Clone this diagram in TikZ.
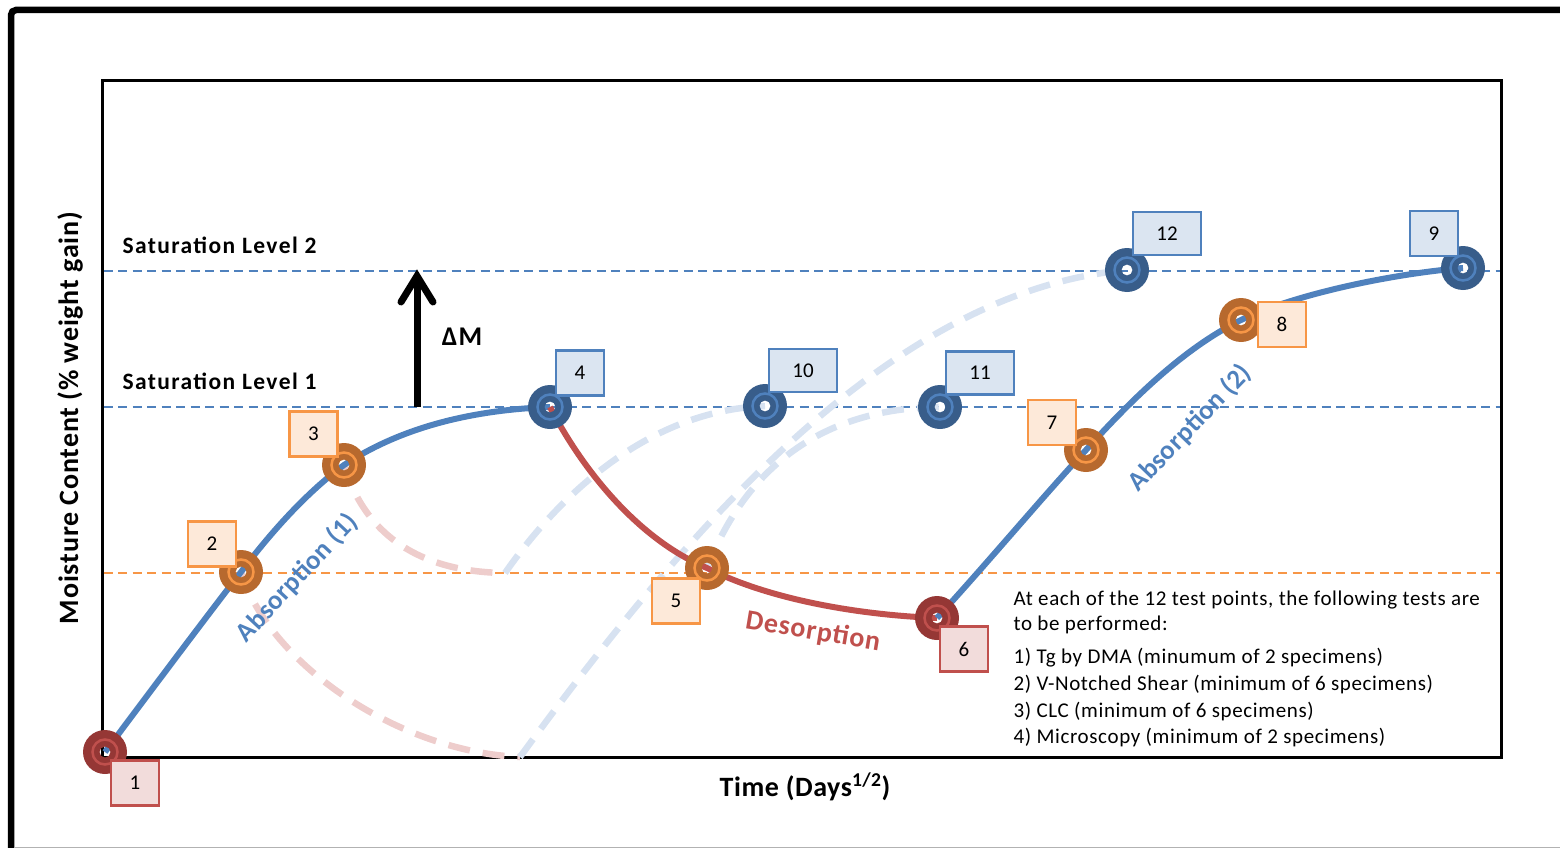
\documentclass[tikz,border=0pt]{standalone}
\usepackage{fontspec}
\setmainfont{Carlito}
\usetikzlibrary{arrows.meta}
\definecolor{cBlue}{HTML}{4F81BD}
\definecolor{cRed}{HTML}{C0504D}
\definecolor{cOrange}{HTML}{F79646}
\definecolor{mBlue}{HTML}{385D8A}
\definecolor{mOrange}{HTML}{B7692E}
\definecolor{mRed}{HTML}{953735}
\definecolor{fBlue}{HTML}{DBE5F1}
\definecolor{fOrange}{HTML}{FDE9D9}
\definecolor{fRed}{HTML}{F2DCDB}
\definecolor{dPink}{HTML}{EECDCC}
\definecolor{dLBlue}{HTML}{D7E2F1}
\newcommand\ringmark[3]{%
  \fill[#2, even odd rule] (#1) circle (22pt) (#1) circle (5.5pt);
  \draw[#3, line width=2.5pt] (#1) circle (12.5pt);
}
\newcommand\spaced[1]{\addfontfeature{LetterSpace=#1}}
\begin{document}
\begin{tikzpicture}[x=1pt,y=-1pt,
  lvl/.style={line width=2.8pt, dash pattern=on 9pt off 5.5pt},
  curveline/.style={line width=6pt},
  faint/.style={line width=6.5pt, dash pattern=on 22pt off 13pt},
  numbox/.style={line width=2.5pt, minimum width=48pt, minimum height=45pt, inner sep=0pt, font=\fontsize{21}{24}\selectfont},
  widebox/.style={minimum width=68pt, minimum height=43pt},
  redbox/.style={numbox, draw=cRed, fill=fRed},
  orangebox/.style={numbox, draw=cOrange, fill=fOrange},
  bluebox/.style={numbox, draw=cBlue, fill=fBlue},
  satlabel/.style={anchor=base west, font=\bfseries\fontsize{23.5}{27}\selectfont\spaced{6}},
  info/.style={anchor=base west, font=\fontsize{21}{24}\selectfont\spaced{3}},
]
\useasboundingbox (0,0) rectangle (1560,848);
% outer frame
\draw[line width=6.5pt, rounded corners=5pt] (11,860) -- (11,10) -- (1570,10);
\draw[gray!60, line width=1.2pt] (14,847.3) -- (1560,847.3);
% plot frame
\draw[line width=3pt] (102,80.5) rectangle (1501.5,757.5);

% coordinates
\coordinate (p1) at (105,752);
\coordinate (p2) at (241,572);
\coordinate (p3) at (344,465);
\coordinate (p4) at (550,407);
\coordinate (p5) at (707,568);
\coordinate (p6) at (937,618);
\coordinate (p7) at (1086,450);
\coordinate (p8) at (1241,320);
\coordinate (p9) at (1463,268);
\coordinate (p10) at (765,406);
\coordinate (p11) at (940,407);
\coordinate (p12) at (1127,270);
\coordinate (e1) at (505,573);
\coordinate (e2) at (520,757);
\coordinate (L2a) at (103.5,271); \coordinate (L2b) at (1500,271);
\coordinate (L1a) at (103.5,407); \coordinate (L1b) at (1500,407);
\coordinate (L0a) at (103.5,573); \coordinate (L0b) at (1500,573);

% level lines
\draw[lvl, cBlue] (L2a) -- (L2b);
\draw[lvl, cBlue] (L1a) -- (L1b);
\draw[lvl, cOrange] (L0a) -- (L0b);

% faint paths
\draw[faint, dPink] (p3) .. controls (365,535) and (420,572) .. (e1);
\draw[faint, dPink] (p2) .. controls (270,665) and (400,752) .. (e2);
\draw[faint, dLBlue] (e1) .. controls (570,480) and (660,410) .. (p10);
\draw[faint, dLBlue] (p5) .. controls (745,470) and (820,408) .. (p11);
\draw[faint, dLBlue] (e2) .. controls (700,510) and (900,290) .. (p12);

% main curves
\draw[curveline, cBlue] (p1) .. controls (150,692) and (200,625) .. (p2)
  .. controls (275,527) and (310,490) .. (p3)
  .. controls (400,428) and (470,410) .. (p4);
\draw[curveline, cRed] (p4) .. controls (580,465) and (635,538) .. (p5)
  .. controls (770,600) and (860,615) .. (p6);
\draw[curveline, cBlue] (p6) .. controls (990,560) and (1040,500) .. (p7)
  .. controls (1140,390) and (1190,345) .. (p8)
  .. controls (1300,292) and (1400,273) .. (p9);

% delta M arrow
\coordinate (dmA) at (417,407);
\coordinate (dmB) at (417,277);
\coordinate (dmL) at (401,302);
\coordinate (dmR) at (433,302);
\draw[line width=7pt] (dmA) -- (dmB);
\draw[line width=7pt, line cap=round, line join=miter] (dmL) -- (417,276) -- (dmR);
\node[font=\bfseries\fontsize{27}{30}\selectfont\spaced{4}] (dm) at (462,337) {ΔM};

% markers
\ringmark{p1}{mRed}{cRed}
\ringmark{p2}{mOrange}{cOrange}
\ringmark{p3}{mOrange}{cOrange}
\ringmark{p4}{mBlue}{cBlue}
\ringmark{p5}{mOrange}{cOrange}
\ringmark{p6}{mRed}{cRed}
\ringmark{p7}{mOrange}{cOrange}
\ringmark{p8}{mOrange}{cOrange}
\ringmark{p9}{mBlue}{cBlue}
\ringmark{p10}{mBlue}{cBlue}
\ringmark{p11}{mBlue}{cBlue}
\ringmark{p12}{mBlue}{cBlue}

% boxes
\node[redbox] (b1) at (135,783) {1};
\node[orangebox] (b2) at (212,544) {2};
\node[orangebox] (b3) at (313.5,434) {3};
\node[bluebox] (b4) at (580,373) {4};
\node[orangebox] (b5) at (676,601) {5};
\node[redbox] (b6) at (964,649) {6};
\node[orangebox] (b7) at (1052,422.5) {7};
\node[orangebox] (b8) at (1282,324.5) {8};
\node[bluebox] (b9) at (1434,233.5) {9};
\node[bluebox, widebox] (b10) at (803,370.5) {10};
\node[bluebox, widebox] (b11) at (980,373) {11};
\node[bluebox, widebox] (b12) at (1167,233.5) {12};

% labels
\node[satlabel] (s2) at (119,253) {Saturation Level 2};
\node[satlabel] (s1) at (119,389) {Saturation Level 1};
\node[anchor=base, rotate=90, font=\bfseries\fontsize{28}{32}\selectfont\spaced{3}] (ylab) at (78,418) {Moisture Content (\% weight gain)};
\node[anchor=base, font=\bfseries\fontsize{28}{32}\selectfont\spaced{2}] (xlab) at (805,796) {Time (Days\textsuperscript{1/2})};
\node[rotate=47, text=cBlue, font=\bfseries\fontsize{27}{32}\selectfont\spaced{1}] (ab1) at (297,578) {Absorption (1)};
\node[rotate=46, text=cBlue, font=\bfseries\fontsize{27}{32}\selectfont\spaced{1}] (ab2) at (1190,428) {Absorption (2)};
\node[rotate=-9.5, text=cRed, font=\bfseries\fontsize{28}{32}\selectfont\spaced{3}] (des) at (813,632) {Desorption};

% info text
\node[info] (i1) at (1010,605) {At each of the 12 test points, the following tests are};
\node[info] (i2) at (1010,630) {to be performed:};
\node[info] (i3) at (1010,663) {1) Tg by DMA (minumum of 2 specimens)};
\node[info] (i4) at (1010,690) {2) V-Notched Shear (minimum of 6 specimens)};
\node[info] (i5) at (1010,717) {3) CLC (minimum of 6 specimens)};
\node[info] (i6) at (1010,743) {4) Microscopy (minimum of 2 specimens)};
\end{tikzpicture}
\end{document}
